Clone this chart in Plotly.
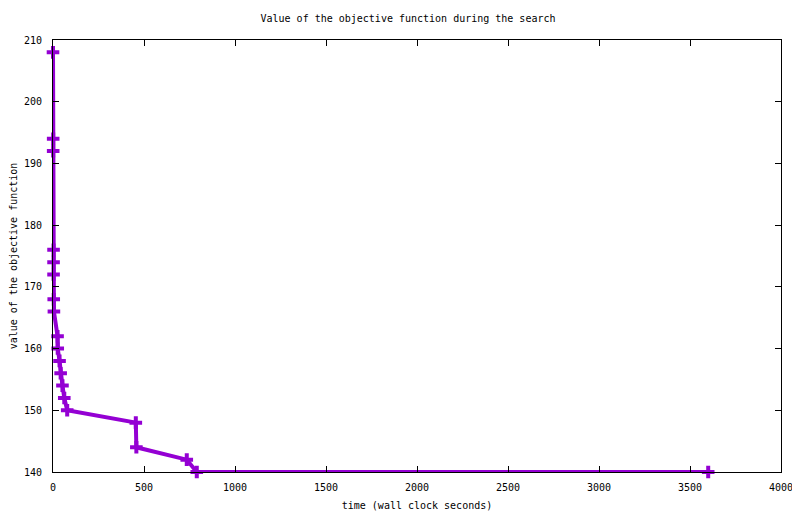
import plotly.graph_objects as go

# search trace: wall clock seconds vs objective value
times = [0, 1, 1, 3, 3, 3, 4, 5, 25, 26, 36, 42, 52, 62, 78, 455, 458, 735, 790, 3600]
objective = [208, 194, 192, 176, 174, 172, 168, 166, 162, 160, 158, 156, 154, 152, 150, 148, 144, 142, 140, 140]

xticks = [0, 500, 1000, 1500, 2000, 2500, 3000, 3500, 4000]
yticks = [140, 150, 160, 170, 180, 190, 200, 210]

FONT = dict(family="DejaVu Sans Mono", size=10, color="black")

fig = go.Figure()
fig.add_trace(go.Scatter(
    x=times, y=objective,
    mode="lines+markers",
    line=dict(color="#9400D3", width=4),
    marker=dict(symbol="cross-thin", size=9, line=dict(color="#9400D3", width=4)),
    cliponaxis=False,
    showlegend=False,
))

axis_common = dict(
    showline=True, linecolor="black", linewidth=1, mirror="ticks",
    ticks="inside", ticklen=6, tickcolor="black",
    showgrid=False, zeroline=False, tickfont=FONT, automargin=False,
)

# page body adds an 8px offset, so margins are shifted to compensate
fig.update_layout(
    width=800, height=514,
    margin=dict(l=45, r=27, t=32, b=50),
    paper_bgcolor="white", plot_bgcolor="white",
    font=FONT,
    title=dict(text="Value of the objective function during the search",
               x=0.5, xanchor="center", y=0.979, yanchor="middle", font=FONT),
    xaxis=dict(range=[0, 4000], tickvals=xticks, ticklabelstandoff=6,
               title=dict(text="time (wall clock seconds)", font=FONT, standoff=9),
               **axis_common),
    yaxis=dict(range=[140, 210], tickvals=yticks, ticklabelstandoff=8,
               title=dict(text="value of the objective function", font=FONT, standoff=8),
               **axis_common),
)

fig.write_html("out.html")
